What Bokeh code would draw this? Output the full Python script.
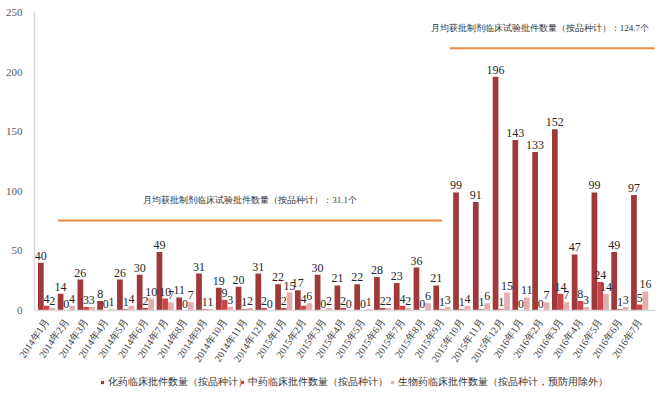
from bokeh.plotting import figure
from bokeh.layouts import column
from bokeh.models import ColumnDataSource, FixedTicker, Legend, LegendItem, Range1d
from bokeh.transform import dodge
from bokeh.core.properties import value
from bokeh.embed import file_html
from bokeh.resources import INLINE

months = ["2014年1月", "2014年2月", "2014年3月", "2014年4月", "2014年5月", "2014年6月",
          "2014年7月", "2014年8月", "2014年9月", "2014年10月", "2014年11月", "2014年12月",
          "2015年1月", "2015年2月", "2015年3月", "2015年4月", "2015年5月", "2015年6月",
          "2015年7月", "2015年8月", "2015年9月", "2015年10月", "2015年11月", "2015年12月",
          "2016年1月", "2016年2月", "2016年3月", "2016年4月", "2016年5月", "2016年6月",
          "2016年7月"]
chem = [40, 14, 26, 8, 26, 30, 49, 11, 31, 19, 20, 31, 22, 17, 30, 21, 22, 28, 23, 36, 21,
        99, 91, 196, 143, 133, 152, 47, 99, 49, 97]
tcm = [4, 0, 3, 0, 1, 2, 10, 0, 1, 9, 1, 2, 2, 4, 0, 2, 0, 2, 4, 0, 1,
       1, 1, 1, 0, 0, 14, 8, 24, 1, 5]
bio = [2, 4, 3, 1, 4, 10, 7, 7, 1, 3, 2, 0, 15, 6, 2, 0, 1, 2, 2, 6, 3,
       4, 6, 15, 11, 7, 7, 3, 14, 3, 16]
series_names = ["化药临床批件数量（按品种计）", "中药临床批件数量（按品种计）",
                "生物药临床批件数量（按品种计，预防用除外）"]
avg_texts = ["月均获批制剂临床试验批件数量（按品种计）：31.1个",
             "月均获批制剂临床试验批件数量（按品种计）：124.7个"]
y_ticks = [0, 50, 100, 150, 200, 250]

colors = ["#A0393B", "#C9474A", "#E4AEAF"]
SERIF = value("Liberation Serif")

src = ColumnDataSource(dict(
    idx=list(range(len(months))),
    chem=chem, tcm=tcm, bio=bio,
    chem_t=[str(v) for v in chem],
    tcm_t=[str(v) for v in tcm],
    bio_t=[str(v) for v in bio],
))

p = figure(width=659, height=373, x_range=Range1d(-0.61, 30.8), y_range=Range1d(0, 250),
           output_backend="svg", toolbar_location=None,
           min_border_left=34, min_border_right=4, min_border_top=12, min_border_bottom=63)
p.outline_line_color = None
p.xgrid.visible = False
p.ygrid.visible = False

offs = [-0.29, 0.0, 0.29]
cols = ["chem", "tcm", "bio"]
for off, col, c in zip(offs, cols, colors):
    p.vbar(x=dodge("idx", off), top=col, width=0.29, bottom=0, source=src,
           fill_color=c, line_color=None)
    p.text(x=dodge("idx", off), y=col, text=col + "_t", source=src, text_align="center",
           text_baseline="bottom", y_offset=-3, text_font=SERIF, text_font_size="12px",
           text_color="#262626")

# average decorations
avg_lines = [([0.56, 20.0], [75.5, 75.5]), ([20.4, 30.75], [220, 220])]
for xs, ys in avg_lines:
    p.line(xs, ys, line_color="#F0883E", line_width=2.2)
avg_pos = [(10.3, 92.5), (24.95, 237.0)]
for (tx, ty), t in zip(avg_pos, avg_texts):
    p.text(x=[tx], y=[ty], text=[t], text_align="center", text_baseline="middle",
           text_font=SERIF, text_font_size="9px", text_color="#333333")

# axes
p.yaxis.ticker = FixedTicker(ticks=y_ticks)
p.yaxis.axis_line_color = "#D9D9D9"
p.yaxis.axis_line_width = 1.5
p.yaxis.major_tick_line_color = None
p.yaxis.minor_tick_line_color = None
p.yaxis.major_label_text_font = "Liberation Serif"
p.yaxis.major_label_text_font_size = "11px"
p.yaxis.major_label_text_color = "#595959"
p.yaxis.major_label_standoff = 6

p.xaxis.ticker = FixedTicker(ticks=list(range(len(months))))
p.xaxis.major_label_overrides = {i: m for i, m in enumerate(months)}
p.xaxis.major_label_orientation = 0.98
p.xaxis.axis_line_color = "#D9D9D9"
p.xaxis.axis_line_width = 1.5
p.xaxis.major_tick_line_color = None
p.xaxis.minor_tick_line_color = None
p.xaxis.major_label_text_font = "Liberation Serif"
p.xaxis.major_label_text_font_size = "10px"
p.xaxis.major_label_text_color = "#404040"
p.xaxis.major_label_standoff = 3

# legend in a small strip figure below (no axes, so the frame spans the strip)
lg = figure(width=659, height=30, x_range=Range1d(0, 1), y_range=Range1d(0, 1),
            output_backend="svg", toolbar_location=None,
            x_axis_location=None, y_axis_location=None,
            min_border=0, outline_line_color=None)
lg.grid.visible = False
legend_x = [64, 204, 354]
for n, c, lx in zip(series_names, colors, legend_x):
    # one off-range sample so the legend swatch has something to draw from
    hidden = ColumnDataSource(dict(x=[5], y=[5]))
    r = lg.scatter(x="x", y="y", source=hidden, marker="square", size=8,
                   fill_color=c, line_color=None)
    leg = Legend(items=[LegendItem(label=n, renderers=[r])], orientation="horizontal",
                 location=(lx, 14))
    leg.glyph_width = 8
    leg.glyph_height = 8
    leg.label_standoff = 2
    leg.label_text_font = "Liberation Serif"
    leg.label_text_font_size = "10px"
    leg.label_text_color = "#333333"
    leg.border_line_color = None
    leg.background_fill_alpha = 0
    leg.padding = 0
    leg.margin = 0
    lg.add_layout(leg, "center")

open("out.html", "w").write(file_html(column(p, lg, spacing=0), INLINE))
